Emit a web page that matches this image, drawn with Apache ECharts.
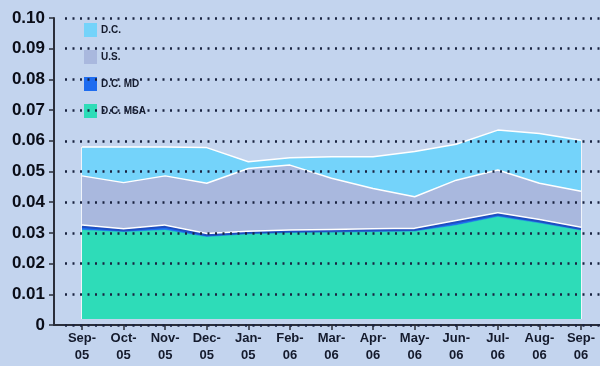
<!DOCTYPE html>
<html><head><meta charset="utf-8">
<script src="https://cdn.jsdelivr.net/npm/echarts@6/dist/echarts.min.js"></script>
<style>html,body{margin:0;padding:0;background:#c3d4ee;}#c{width:600px;height:366px;}</style>
</head><body><div id="c"></div>
<script>
var categories = ['Sep-\n05','Oct-\n05','Nov-\n05','Dec-\n05','Jan-\n05','Feb-\n06','Mar-\n06','Apr-\n06','May-\n06','Jun-\n06','Jul-\n06','Aug-\n06','Sep-\n06'];
var dc    = [0.058, 0.058, 0.058, 0.0578, 0.0532, 0.0545, 0.0548, 0.0548, 0.0565, 0.0589, 0.0635, 0.0624, 0.0602];
var us    = [0.0486, 0.0464, 0.0486, 0.0462, 0.051, 0.0521, 0.0478, 0.0445, 0.0418, 0.0472, 0.0505, 0.0462, 0.0436];
var dcMd  = [0.032, 0.0308, 0.032, 0.0293, 0.0300, 0.0304, 0.0306, 0.0308, 0.0310, 0.0335, 0.0360, 0.0338, 0.0313];
var dcMsa = [0.031, 0.0303, 0.031, 0.0287, 0.0296, 0.0300, 0.0302, 0.0303, 0.0305, 0.0325, 0.0353, 0.0332, 0.0308];
var yTicks = ['0','0.01','0.02','0.03','0.04','0.05','0.06','0.07','0.08','0.09','0.10'];
var areaBase = 0.002;

var chart = echarts.init(document.getElementById('c'));
var dark = '#141a2c';
function areaSeries(name, data, color, line) {
  return {
    name: name, type: 'line', xAxisIndex: 1, yAxisIndex: 1,
    data: data, symbol: 'none', animation: false,
    itemStyle: {color: color},
    lineStyle: line,
    areaStyle: {color: color, opacity: 1}
  };
}
var sDC = areaSeries('D.C.', dc, '#74d3fa', {color: '#ffffff', width: 1.5});
sDC.markLine = {
  silent: true, symbol: 'none', animation: false, z: 1,
  label: {show: false},
  lineStyle: {color: '#ffffff', width: 1.5, type: 'solid'},
  data: [
    [{coord: [0, areaBase]}, {coord: [0, dc[0]]}],
    [{coord: [categories.length - 1, areaBase]}, {coord: [categories.length - 1, dc[dc.length - 1]]}]
  ]
};
var sUS = areaSeries('U.S.', us, '#a9b8de', {color: '#ffffff', width: 1.5});
var sMD = areaSeries('D.C. MD', dcMd, '#1e6cf0', {color: '#1f4fc0', width: 2, shadowColor: '#ffffff', shadowOffsetY: -1.5, shadowBlur: 0});
var sMSA = areaSeries('D.C. MSA', dcMsa, '#2edcb8', {color: '#2edcb8', width: 0.5});

chart.setOption({
  backgroundColor: '#c3d4ee',
  animation: false,
  legend: {
    orient: 'vertical', left: 79, top: 18, itemWidth: 13, itemHeight: 14, itemGap: 13,
    icon: 'rect', z: 1,
    textStyle: {color: dark, fontSize: 10, fontWeight: 'bold', fontFamily: 'Liberation Sans Narrow, Liberation Sans, Arial', padding: [0,0,0,-1]},
    data: ['D.C.', 'U.S.', 'D.C. MD', 'D.C. MSA']
  },
  grid: [
    {left: 54, right: 0, top: 18, bottom: 41},
    {left: 82, right: 19, top: 18, bottom: 47},
    {left: 65, right: 0, top: 18, bottom: 41}
  ],
  xAxis: [
    {gridIndex: 0, type: 'value', min: 0, max: 1, axisLabel: {show: false}, axisTick: {show: false}, splitLine: {show: false},
     axisLine: {lineStyle: {color: '#2a2e3a', width: 2}}},
    {gridIndex: 1, type: 'category', boundaryGap: false, data: categories, offset: 6,
     axisLine: {show: false},
     axisTick: {show: true, length: 5, lineStyle: {color: '#2a2e3a', width: 1.5}},
     axisLabel: {color: dark, fontSize: 13, fontWeight: 'bold', fontFamily: 'Liberation Sans, Arial', lineHeight: 17, margin: 5, interval: 0}},
    {gridIndex: 2, type: 'value', min: 0, max: 1, show: false}
  ],
  yAxis: [
    {gridIndex: 0, type: 'value', min: 0, max: 0.1, interval: 0.01, z: 10,
     axisLine: {show: true, lineStyle: {color: '#2a2e3a', width: 2}},
     axisTick: {show: true, inside: false, length: 5, lineStyle: {color: '#2a2e3a', width: 1.5}},
     axisLabel: {color: '#0a0d18', fontSize: 17, fontWeight: 'bold', fontFamily: 'Liberation Sans, Arial', margin: 9,
       formatter: function (v) { return yTicks[Math.round(v * 100)]; }},
     splitLine: {show: false}},
    {gridIndex: 1, type: 'value', min: areaBase, max: 0.1, show: false, splitLine: {show: false}},
    {gridIndex: 2, type: 'value', min: 0, max: 0.1, interval: 0.01, z: 10,
     axisLine: {show: false}, axisTick: {show: false}, axisLabel: {show: false},
     splitLine: {show: true, lineStyle: {color: '#1a2340', width: 2.5, type: [2, 5.5]}}}
  ],
  series: [sDC, sUS, sMD, sMSA]
});
</script></body></html>
